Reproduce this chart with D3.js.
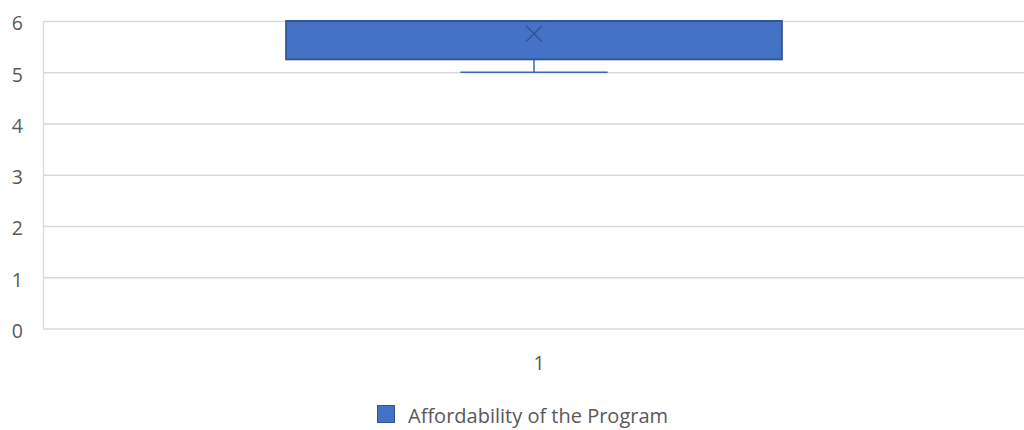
<!DOCTYPE html>
<html>
<head>
<meta charset="utf-8">
<script src="https://cdn.jsdelivr.net/npm/d3@7"></script>
<style>
  html, body { margin: 0; padding: 0; background: #fff; }
  svg { display: block; }
  text { font-family: "Open Sans", "Liberation Sans", sans-serif; fill: #595959; }
</style>
</head>
<body>
<svg id="chart" width="1024" height="430"></svg>
<script>
// Survey responses for one question
const categories = ["1"];
const seriesName = "Affordability of the Program";
const responses = [5, 5, 6, 6, 6, 6, 6, 6];
const yTicks = [0, 1, 2, 3, 4, 5, 6];

// Exclusive quartile (same convention as spreadsheet box plots)
function quartileExc(sorted, p) {
  const n = sorted.length;
  const pos = (n + 1) * p;
  const lo = Math.floor(pos);
  const frac = pos - lo;
  if (lo < 1) return sorted[0];
  if (lo >= n) return sorted[n - 1];
  return sorted[lo - 1] + frac * (sorted[lo] - sorted[lo - 1]);
}

const sorted = responses.slice().sort((a, b) => a - b);
const stats = {
  min: d3.min(sorted),
  q1: quartileExc(sorted, 0.25),
  median: quartileExc(sorted, 0.5),
  q3: quartileExc(sorted, 0.75),
  max: d3.max(sorted),
  mean: d3.mean(sorted)
};

const svg = d3.select("#chart");
const margin = { left: 43, right: -1, top: 21, bottom: 101.5 };
const W = 1024, H = 430;
const fontSize = "19.5px";

const x = d3.scaleBand()
  .domain(categories)
  .range([margin.left, W - margin.right])
  .paddingInner(0).paddingOuter(0);

const y = d3.scaleLinear()
  .domain([0, 6])
  .range([H - margin.bottom, margin.top]);

// Horizontal gridlines with value labels
const yAxis = d3.axisLeft(y).tickValues(yTicks)
  .tickSize(-(x.range()[1] - x.range()[0]))
  .tickPadding(20)
  .tickFormat(d3.format("d"));
const gy = svg.append("g").attr("transform", `translate(${margin.left},0)`).call(yAxis);
gy.select(".domain").remove();
gy.selectAll(".tick line").attr("stroke", "#D9D9D9").attr("stroke-width", 1.3);
gy.selectAll(".tick text").style("font-size", fontSize).attr("fill", "#595959").attr("dy", "0.45em");

// Left border of the plot area
svg.append("line")
  .attr("x1", margin.left + 0.5).attr("x2", margin.left + 0.5)
  .attr("y1", y(6)).attr("y2", y(0))
  .attr("stroke", "#D9D9D9").attr("stroke-width", 1.3);

// Category axis labels
const xAxis = d3.axisBottom(x).tickSize(0).tickPadding(28);
const gx = svg.append("g").attr("transform", `translate(0,${y(0)})`).call(xAxis);
gx.select(".domain").remove();
gx.selectAll(".tick text").style("font-size", fontSize).attr("fill", "#595959").attr("dx", 5);

// Box and whisker
const cx = x(categories[0]) + x.bandwidth() / 2;
const boxW = x.bandwidth() * 0.505;
const whiskW = x.bandwidth() * 0.15;
const g = svg.append("g");

// Lower whisker
g.append("line")
  .attr("x1", cx).attr("x2", cx)
  .attr("y1", y(stats.q1)).attr("y2", y(stats.min))
  .attr("stroke", "#3B67B8").attr("stroke-width", 1.5);
g.append("line")
  .attr("x1", cx - whiskW / 2).attr("x2", cx + whiskW / 2)
  .attr("y1", y(stats.min)).attr("y2", y(stats.min))
  .attr("stroke", "#3B67B8").attr("stroke-width", 1.5);
// Upper whisker (zero length when max equals Q3)
g.append("line")
  .attr("x1", cx).attr("x2", cx)
  .attr("y1", y(stats.q3)).attr("y2", y(stats.max))
  .attr("stroke", "#3B67B8").attr("stroke-width", 1.5);

// Interquartile box
g.append("rect")
  .attr("x", cx - boxW / 2).attr("width", boxW)
  .attr("y", y(stats.q3)).attr("height", y(stats.q1) - y(stats.q3))
  .attr("fill", "#4472C4").attr("stroke", "#2F5597").attr("stroke-width", 1.8);

// Median line
g.append("line")
  .attr("x1", cx - boxW / 2).attr("x2", cx + boxW / 2)
  .attr("y1", y(stats.median)).attr("y2", y(stats.median))
  .attr("stroke", "#2F5597").attr("stroke-width", 1.8);

// Mean marker
const m = 8;
const my = y(stats.mean);
g.append("path")
  .attr("d", `M${cx - m},${my - m}L${cx + m},${my + m}M${cx - m},${my + m}L${cx + m},${my - m}`)
  .attr("stroke", "#2F5597").attr("stroke-width", 1.5).attr("fill", "none");

// Legend
const lg = svg.append("g").attr("transform", "translate(377,405)");
lg.append("rect").attr("x", 0.5).attr("y", 0.5).attr("width", 17).attr("height", 17)
  .attr("fill", "#4472C4").attr("stroke", "#2F5597").attr("stroke-width", 1);
lg.append("text").attr("x", 31).attr("y", 18).style("font-size", "20px").text(seriesName);
</script>
</body>
</html>
